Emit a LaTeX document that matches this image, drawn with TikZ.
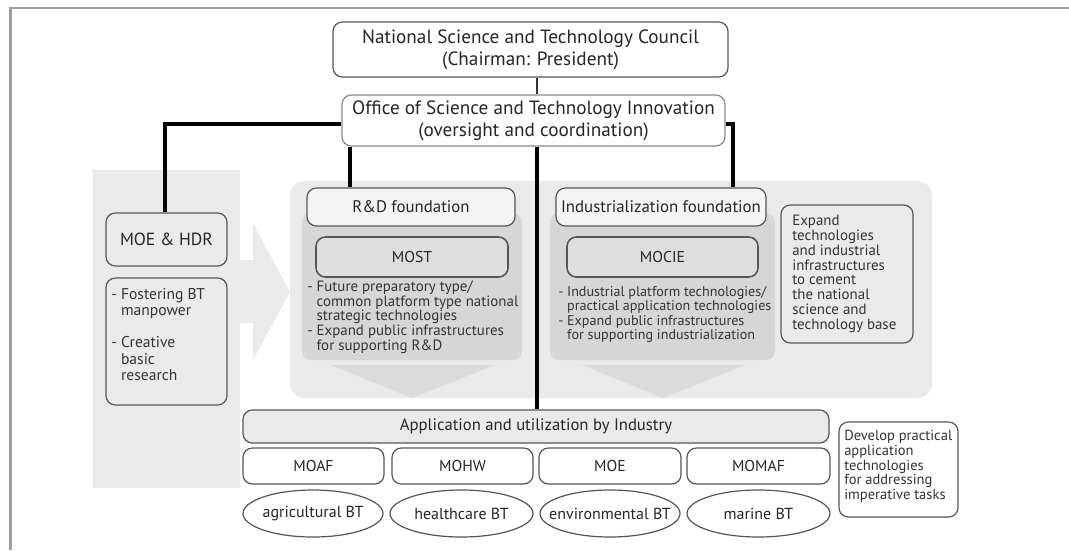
\documentclass[tikz,border=0pt]{standalone}
\usepackage{fontspec}
\setmainfont{PT Sans}
\usetikzlibrary{shapes.geometric}
\definecolor{panel}{HTML}{EAEAEA}
\definecolor{bodyc}{HTML}{D6D6D6}
\definecolor{headc}{HTML}{DBDBDB}
\definecolor{framec}{HTML}{A0A0A0}
\definecolor{edgec}{HTML}{555555}
\definecolor{mostc}{HTML}{DEDEDE}
\definecolor{fndc}{HTML}{F4F4F4}
\newcommand\hg{\hphantom{-\ }}
\begin{document}
\begin{tikzpicture}[x=0.75pt,y=-0.75pt,
  wh/.style 2 args={minimum width=#1*0.75pt, minimum height=#2*0.75pt},
  box/.style={draw=edgec, line width=0.9pt, rounded corners=7pt, inner sep=0pt, align=center, text=black!85},
  bigtxt/.style={font=\fontsize{14.4}{16.5}\selectfont},
  midtxt/.style={font=\fontsize{12.6}{14}\selectfont},
  lowtxt/.style={font=\fontsize{11.8}{13}\selectfont},
  bul/.style={anchor=north west, align=left, inner sep=0pt, text=black!80, font=\fontsize{11.2}{10.9}\selectfont},
  thick line/.style={line width=3pt, black},
  oval/.style={ellipse, draw=edgec, line width=0.9pt, inner sep=0pt, fill=white},
  ovaltxt/.style={label={[font=\fontsize{12}{13}\selectfont, text=black!85, inner sep=0pt]center:#1}}]
\useasboundingbox (0,0) rectangle (1069,550);
\fill[white] (0,0) rectangle (1069,550);
% frame
\draw[framec, line width=2pt] (10.5,550) -- (10.5,8) -- (1069,8);
% left panel and arrow
\fill[panel] (93,170) rectangle (240,488);
\fill[panel] (238,260) -- (253,260) -- (253,223) -- (290,292) -- (253,360) -- (253,323) -- (238,323) -- cycle;
% big panel
\fill[panel, rounded corners=11pt] (290,181) rectangle (932,398);
% block arrows
\fill[bodyc, rounded corners=7pt] (302,213) rectangle (522,360);
\fill[headc] (330,365) -- (495,365) -- (412,398) -- cycle;
\fill[bodyc, rounded corners=7pt] (550,213) rectangle (775,360);
\fill[headc] (582,365) -- (745,365) -- (663,398) -- cycle;
% coordinates for connectors
\coordinate (spine) at (537,0);
\coordinate (lcol) at (165,0);
\coordinate (rdx) at (350,0);
\coordinate (indx) at (733,0);
% top boxes
\node[box, fill=white, wh={395}{55}, bigtxt] (nstc) at (530.5,49.5) {National Science and Technology Council\\(Chairman: President)};
\node[box, fill=white, draw=edgec!70, wh={383}{51}, bigtxt] (office) at (533.5,120.5) {Office of Science and Technology Innovation\\(oversight and coordination)};
% left column
\node[box, fill=panel, wh={121}{53}, font=\fontsize{13.2}{14}\selectfont] (moehdr) at (166.5,239.5) {MOE \& HDR};
\node[box, fill=panel, wh={121}{127}] (lbul) at (166.5,341.5) {};
\node[bul, font=\fontsize{11.7}{12.2}\selectfont] (lbultxt) at (111,288) {- Fostering BT\\\hg manpower\\[12pt]- Creative\\\hg basic\\\hg research};
% foundations
\node[box, fill=fndc, wh={208}{38}, midtxt] (rdf) at (411,207) {R\&D foundation};
\node[box, fill=fndc, wh={210}{38}, midtxt] (indf) at (661,207) {Industrialization foundation};
\node[box, fill=mostc, line width=1.2pt, wh={192}{40}, lowtxt] (most) at (412,257) {MOST};
\node[box, fill=mostc, line width=1.2pt, wh={191}{40}, lowtxt] (mocie) at (662.5,257) {MOCIE};
\node[bul] (mosttxt) at (307,281) {- Future preparatory type/\\\hg common platform type national\\\hg strategic technologies\\- Expand public infrastructures\\\hg for supporting R\&D};
\node[bul, font=\fontsize{10.6}{10.9}\selectfont] (mocietxt) at (558,286) {- Industrial platform technologies/\\\hg practical application technologies\\- Expand public infrastructures\\\hg for supporting industrialization};
% right note
\node[box, fill=panel, wh={132}{138}] (expand) at (847,274) {};
\node[bul, font=\fontsize{11.2}{11.1}\selectfont] (expandtxt) at (792,215) {Expand\\technologies\\and industrial\\infrastructures\\to cement\\the national\\science and\\technology base};
% bottom
\node[box, fill=panel, wh={586}{33}, font=\fontsize{12.5}{13}\selectfont] (app) at (536,426.5) {Application and utilization by Industry};
\node[box, fill=white, wh={141}{36}, lowtxt] (moaf) at (313.5,466) {MOAF};
\node[box, fill=white, wh={141}{36}, lowtxt] (mohw) at (462.5,466) {MOHW};
\node[box, fill=white, wh={142}{36}, lowtxt] (moe) at (610,466) {MOE};
\node[box, fill=white, wh={143}{36}, lowtxt] (momaf) at (758.5,466) {MOMAF};
\node[oval, wh={140}{47}, ovaltxt={agricultural BT}] (agri) at (313,513.5) {};
\node[oval, wh={143}{47}, ovaltxt={healthcare BT}] (health) at (461.5,513.5) {};
\node[oval, wh={140}{47}, ovaltxt={environmental BT}] (env) at (610,513.5) {};
\node[oval, wh={143}{47}, ovaltxt={marine BT}] (marine) at (758.5,513.5) {};
\node[box, fill=white, wh={119}{95}] (devel) at (898.5,469.5) {};
\node[bul, font=\fontsize{10.9}{11.05}\selectfont] (develtxt) at (844,430) {Develop practical\\application\\technologies\\for addressing\\imperative tasks};
% connectors
\draw[line width=1.5pt, black!80] (nstc.south -| spine) -- (office.north -| spine);
\draw[thick line] (office.south -| spine) -- (app.north -| spine);
\draw[thick line] (office.west |- 0,124) -| (moehdr.north -| lcol);
\draw[thick line] (office.south -| rdx) -- (rdf.north -| rdx);
\draw[thick line] (office.east |- 0,124) -| (indf.north -| indx);
\end{tikzpicture}
\end{document}
